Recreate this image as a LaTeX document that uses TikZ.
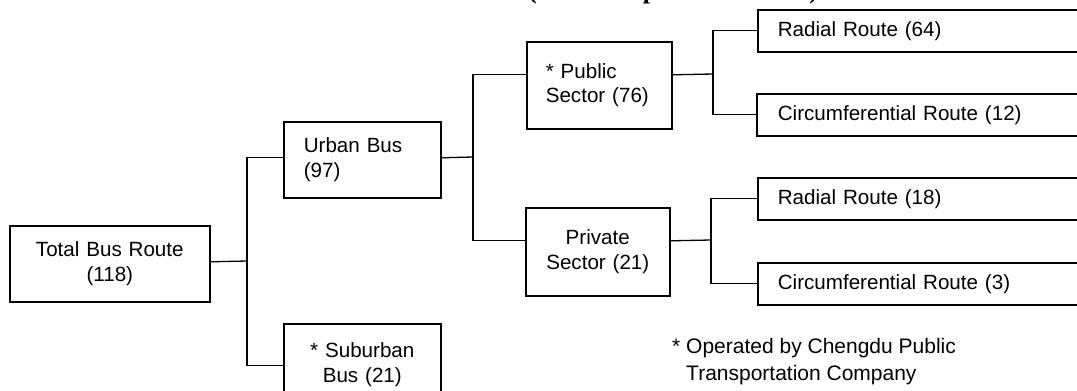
\documentclass[tikz,border=0pt]{standalone}
\usepackage{fontspec}
\setmainfont{Liberation Sans}
\newfontfamily\titleserif{Liberation Serif}
\newcommand\boxfs{\fontsize{20.6pt}{24.5pt}\selectfont}
\begin{document}
\begin{tikzpicture}[x=1pt,y=-1pt,
  box/.style={draw, line width=1.6pt, rectangle, inner ysep=0pt, font=\boxfs, anchor=north west},
  leftbox/.style={box, align=left, inner xsep=#1},
  midbox/.style={box, align=center, inner xsep=4pt},
  link/.style={line width=1.3pt},
  note/.style={font=\fontsize{21pt}{27pt}\selectfont, inner sep=0pt, anchor=base west}
]
\useasboundingbox (0,0) rectangle (1077,391);
\clip (0,0) rectangle (1077,391);

% cut-off title
\node[anchor=base west, inner sep=0pt, font=\titleserif\bfseries\fontsize{26pt}{30pt}\selectfont] (title) at (528,-2) {(\hspace{106pt}p\hspace{152pt})};

% boxes
\node[midbox, text width=192pt, minimum height=76pt] (total) at (9,225) {Total Bus Route\\(118)};
\node[leftbox=20pt, text width=117pt, minimum height=76pt] (urban) at (283,121) {Urban Bus\\(97)};
\node[midbox, text width=149pt, minimum height=82pt] (suburban) at (283,323) {* Suburban\\Bus (21)};
\node[leftbox=19pt, text width=107pt, minimum height=87pt] (public) at (526,41) {* Public\\Sector (76)};
\node[midbox, text width=136pt, minimum height=88pt] (private) at (525,207) {Private\\Sector (21)};
\node[leftbox=20pt, text width=360pt, minimum height=42pt] (r64) at (757,9) {Radial Route (64)};
\node[leftbox=21pt, text width=360pt, minimum height=42pt] (c12) at (756,93) {Circumferential Route (12)};
\node[leftbox=20pt, text width=360pt, minimum height=42pt] (r18) at (757,177) {Radial Route (18)};
\node[leftbox=20pt, text width=360pt, minimum height=42pt] (c3) at (757,262) {Circumferential Route (3)};

% junctions
\coordinate (j1) at (247,261);
\coordinate (j2) at (473,157);
\coordinate (j3) at (713,74);
\coordinate (j4) at (711,240);

% connectors
\draw[link] ([yshift=2pt]total.east) -- (j1);
\draw[link] ([yshift=2pt]urban.west) -| (j1) |- ([yshift=-1pt]suburban.west);
\draw[link] ([yshift=2pt]urban.east) -- (j2);
\draw[link] ([yshift=10.5pt]public.west) -| (j2) |- ([yshift=11pt]private.west);
\draw[link] ([yshift=10.5pt]public.east) -- (j3);
\draw[link] (r64.west) -| (j3) |- (c12.west);
\draw[link] ([yshift=11pt]private.east) -- (j4);
\draw[link] (r18.west) -| (j4) |- (c3.west);

% footnote
\node[note] (fn1) at (672,353) {* Operated by Chengdu Public};
\node[note] (fn2) at (686,380) {Transportation Company};
\end{tikzpicture}
\end{document}
